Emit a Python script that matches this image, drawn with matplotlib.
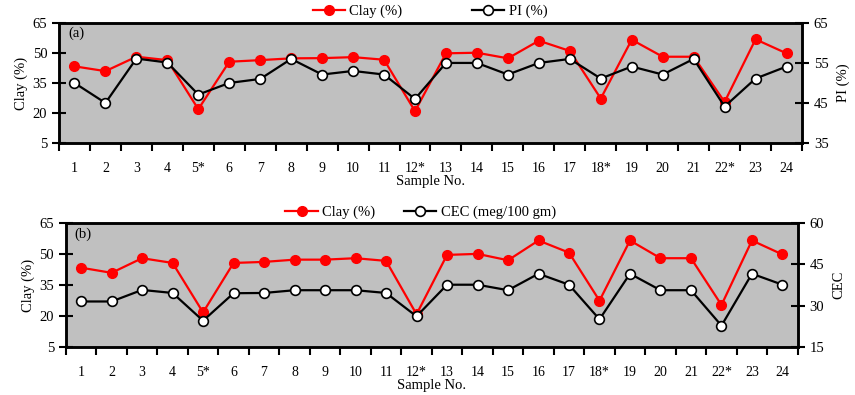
# modules
import matplotlib
matplotlib.use('Agg')
import matplotlib.pyplot as plt

plt.rcParams['font.family'] = ['Liberation Serif', 'DejaVu Serif']
plt.rcParams['font.size'] = 10

# data
samples = ['1', '2', '3', '4', '5*', '6', '7', '8', '9', '10', '11', '12*',
           '13', '14', '15', '16', '17', '18*', '19', '20', '21', '22*', '23', '24']
clay_a = [43.3, 40.9, 48.1, 46.4, 21.9, 45.6, 46.4, 47.3, 47.4, 47.9, 46.6, 20.9,
          49.8, 50.1, 47.3, 56.1, 51.0, 27.2, 56.6, 48.1, 48.1, 25.5, 56.8, 49.8]
pi = [50.0, 45.0, 56.1, 55.1, 47.1, 50.0, 51.0, 56.0, 52.1, 53.0, 52.1, 46.0,
      55.0, 55.0, 52.1, 55.0, 56.0, 51.1, 54.1, 52.1, 56.0, 44.1, 51.1, 54.1]
clay_b = [43.4, 40.9, 48.0, 45.7, 21.7, 45.7, 46.2, 47.3, 47.3, 48.0, 46.7, 20.8,
          49.6, 50.1, 47.0, 56.6, 50.7, 27.4, 56.6, 48.0, 48.0, 25.3, 56.6, 49.8]
cec = [31.5, 31.5, 35.7, 34.6, 24.5, 34.5, 34.6, 35.6, 35.6, 35.6, 34.6, 26.1,
       37.6, 37.6, 35.6, 41.6, 37.6, 25.0, 41.6, 35.6, 35.6, 22.7, 41.6, 37.6]

clay_ticks = [5, 20, 35, 50, 65]
pi_ticks = [35, 45, 55, 65]
cec_ticks = [15, 30, 45, 60]


def make_panel(fig, rect, clay, other, other_label, other_ticks, other_name, tag, leg_xy, colsp):
    x = list(range(1, len(samples) + 1))
    ax = fig.add_axes(rect)
    ax.set_facecolor('#c0c0c0')
    ax.plot(x, clay, color='#ff0000', lw=1.6, marker='o', ms=7,
            mfc='#ff0000', mec='#ff0000', label='Clay (%)')
    ax.set_ylim(5, 65)
    ax.set_yticks(clay_ticks)
    ax.set_ylabel('Clay (%)', labelpad=3, fontsize=10.5)
    ax.set_xlim(0.5, len(samples) + 0.5)
    # boundary ticks, labels in the middle
    ax.set_xticks([i + 0.5 for i in range(len(samples) + 1)])
    ax.set_xticklabels([])
    ax.set_xticks(x, minor=True)
    ax.set_xticklabels(samples, minor=True)
    ax.tick_params(axis='x', which='major', direction='out', length=6, width=1.5)
    ax.tick_params(axis='x', which='minor', length=0, pad=14)
    ax.tick_params(axis='y', direction='inout', length=10, width=1.5, labelsize=10.5)
    ax.set_xlabel('Sample No.', labelpad=0, fontsize=10.5)
    for s in ax.spines.values():
        s.set_linewidth(1.8)

    ax2 = ax.twinx()
    ax2.plot(x, other, color='black', lw=1.6, marker='o', ms=7,
             mfc='white', mec='black', mew=1.2, label=other_label)
    ax2.set_ylim(other_ticks[0], other_ticks[-1])
    ax2.set_yticks(other_ticks)
    ax2.set_ylabel(other_name, labelpad=6, fontsize=10.5)
    ax2.tick_params(axis='y', direction='inout', length=10, width=1.5, labelsize=10.5)
    for s in ax2.spines.values():
        s.set_linewidth(1.8)

    ax.text(0.012, 0.88, tag, transform=ax.transAxes, fontsize=10.5)

    h1, l1 = ax.get_legend_handles_labels()
    h2, l2 = ax2.get_legend_handles_labels()
    fig.legend(h1 + h2, l1 + l2, loc='center', bbox_to_anchor=leg_xy, ncol=2,
               frameon=False, handlelength=2.2, handletextpad=0.3,
               columnspacing=colsp, fontsize=10.5)
    return ax, ax2


fig = plt.figure(figsize=(8.55, 3.95), dpi=100)
make_panel(fig, [0.069, 0.638, 0.869, 0.304], clay_a, pi, 'PI (%)', pi_ticks,
           'PI (%)', '(a)', (0.503, 0.972), 4.8)
make_panel(fig, [0.077, 0.122, 0.856, 0.313], clay_b, cec, 'CEC (meg/100 gm)',
           cec_ticks, 'CEC', '(b)', (0.492, 0.463), 2.0)

plt.savefig('out.png', dpi=100)
plt.close()
